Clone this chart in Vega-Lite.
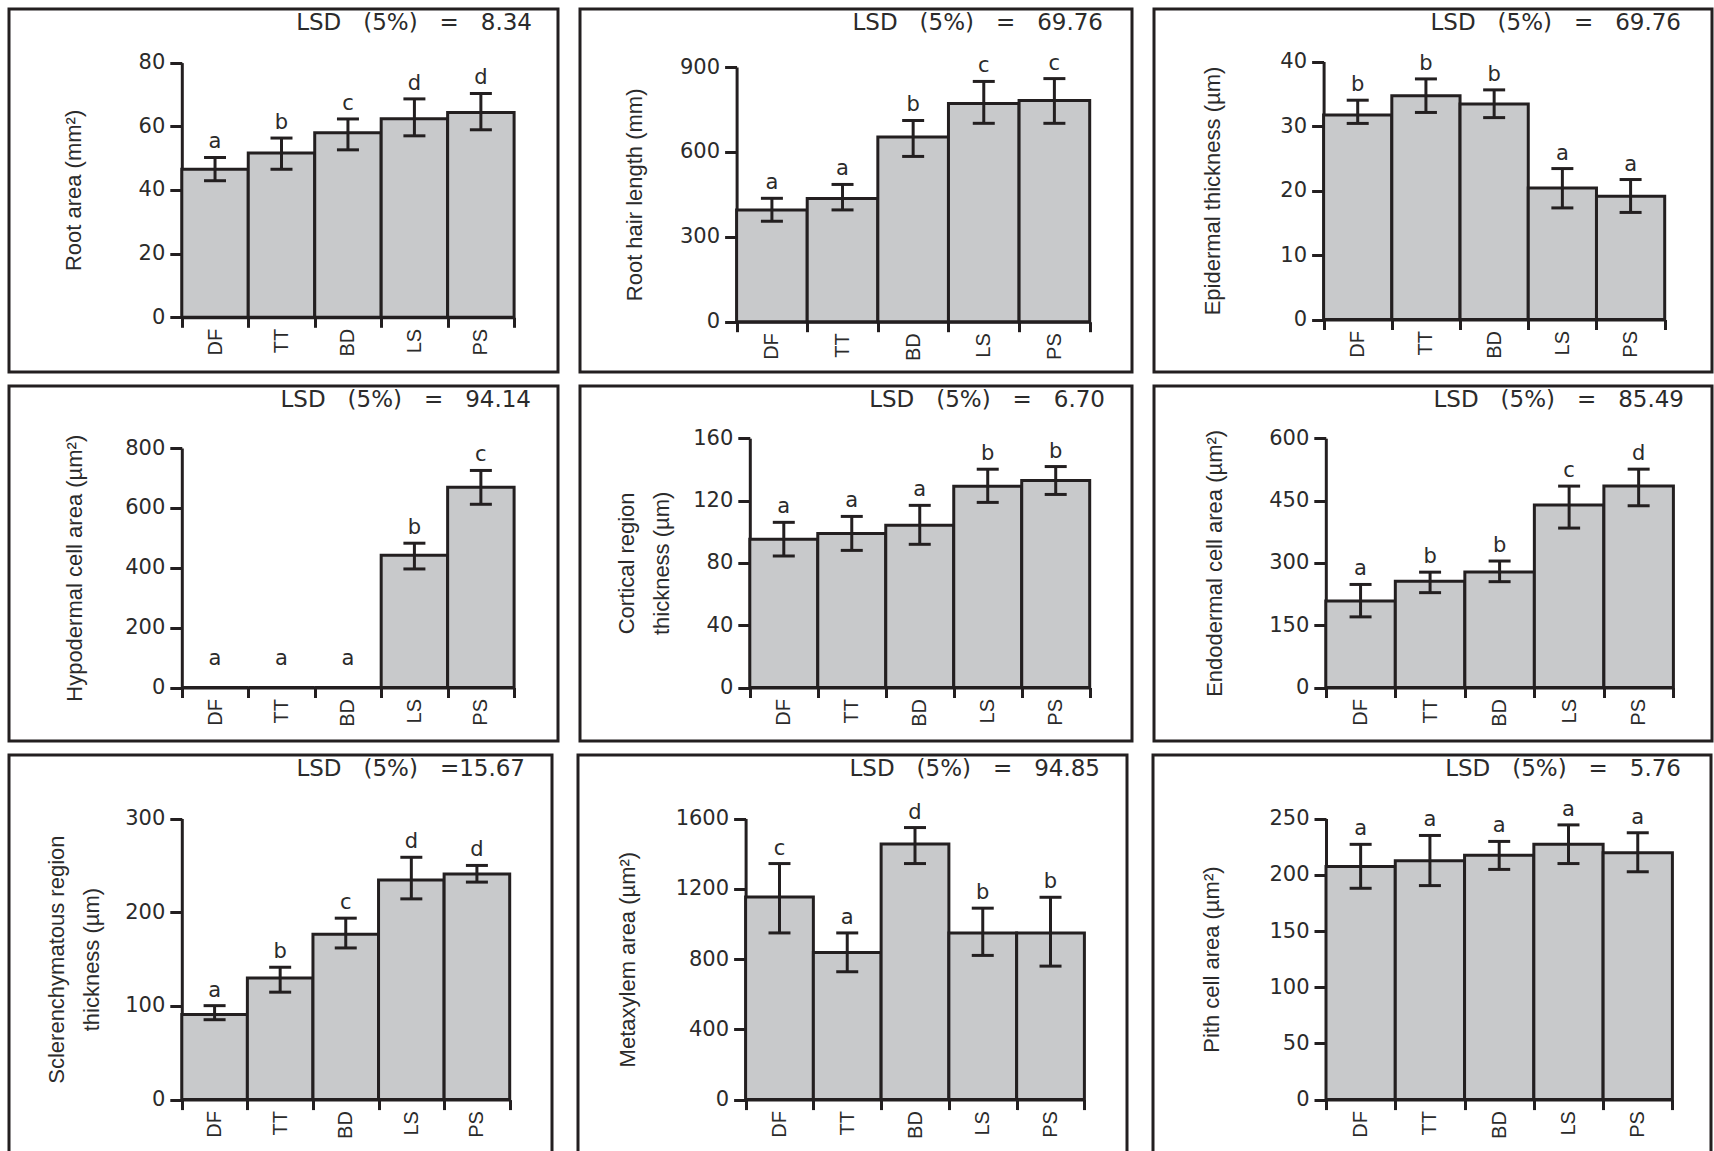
{
  "$schema": "https://vega.github.io/schema/vega-lite/v6.json",
  "background": "white",
  "padding": {"left": -3, "top": 7, "right": 0, "bottom": 0},
  "data": {"values": [
    {"panel": "p1", "trt": "DF", "mean": 46.5, "lo": 42.9, "hi": 50.2, "letter": "a"},
    {"panel": "p1", "trt": "TT", "mean": 51.6, "lo": 46.5, "hi": 56.3, "letter": "b"},
    {"panel": "p1", "trt": "BD", "mean": 58.0, "lo": 52.6, "hi": 62.3, "letter": "c"},
    {"panel": "p1", "trt": "LS", "mean": 62.4, "lo": 57.0, "hi": 68.6, "letter": "d"},
    {"panel": "p1", "trt": "PS", "mean": 64.3, "lo": 58.9, "hi": 70.3, "letter": "d"},
    {"panel": "p2", "trt": "DF", "mean": 395, "lo": 355, "hi": 436, "letter": "a"},
    {"panel": "p2", "trt": "TT", "mean": 435, "lo": 395, "hi": 485, "letter": "a"},
    {"panel": "p2", "trt": "BD", "mean": 653, "lo": 584, "hi": 711, "letter": "b"},
    {"panel": "p2", "trt": "LS", "mean": 771, "lo": 701, "hi": 849, "letter": "c"},
    {"panel": "p2", "trt": "PS", "mean": 782, "lo": 701, "hi": 859, "letter": "c"},
    {"panel": "p3", "trt": "DF", "mean": 31.7, "lo": 30.4, "hi": 34.0, "letter": "b"},
    {"panel": "p3", "trt": "TT", "mean": 34.7, "lo": 32.1, "hi": 37.3, "letter": "b"},
    {"panel": "p3", "trt": "BD", "mean": 33.4, "lo": 31.3, "hi": 35.6, "letter": "b"},
    {"panel": "p3", "trt": "LS", "mean": 20.4, "lo": 17.3, "hi": 23.4, "letter": "a"},
    {"panel": "p3", "trt": "PS", "mean": 19.1, "lo": 16.6, "hi": 21.7, "letter": "a"},
    {"panel": "p4", "trt": "DF", "mean": 0, "lo": 0, "hi": 0, "letter": "a"},
    {"panel": "p4", "trt": "TT", "mean": 0, "lo": 0, "hi": 0, "letter": "a"},
    {"panel": "p4", "trt": "BD", "mean": 0, "lo": 0, "hi": 0, "letter": "a"},
    {"panel": "p4", "trt": "LS", "mean": 442, "lo": 396, "hi": 482, "letter": "b"},
    {"panel": "p4", "trt": "PS", "mean": 669, "lo": 612, "hi": 725, "letter": "c"},
    {"panel": "p5", "trt": "DF", "mean": 95.1, "lo": 84.4, "hi": 106.0, "letter": "a"},
    {"panel": "p5", "trt": "TT", "mean": 98.9, "lo": 88.0, "hi": 109.8, "letter": "a"},
    {"panel": "p5", "trt": "BD", "mean": 104.2, "lo": 91.9, "hi": 116.9, "letter": "a"},
    {"panel": "p5", "trt": "LS", "mean": 129.2, "lo": 118.8, "hi": 140.1, "letter": "b"},
    {"panel": "p5", "trt": "PS", "mean": 132.9, "lo": 123.9, "hi": 141.8, "letter": "b"},
    {"panel": "p6", "trt": "DF", "mean": 208, "lo": 170, "hi": 248, "letter": "a"},
    {"panel": "p6", "trt": "TT", "mean": 255.5, "lo": 228.3, "hi": 277.6, "letter": "b"},
    {"panel": "p6", "trt": "BD", "mean": 278, "lo": 254.7, "hi": 304.4, "letter": "b"},
    {"panel": "p6", "trt": "LS", "mean": 439, "lo": 383.7, "hi": 484.7, "letter": "c"},
    {"panel": "p6", "trt": "PS", "mean": 484.7, "lo": 437.4, "hi": 525.5, "letter": "d"},
    {"panel": "p7", "trt": "DF", "mean": 90.9, "lo": 85.3, "hi": 100.3, "letter": "a"},
    {"panel": "p7", "trt": "TT", "mean": 129.7, "lo": 114.7, "hi": 141.3, "letter": "b"},
    {"panel": "p7", "trt": "BD", "mean": 176.6, "lo": 161.9, "hi": 193.7, "letter": "c"},
    {"panel": "p7", "trt": "LS", "mean": 234.5, "lo": 214.3, "hi": 258.7, "letter": "d"},
    {"panel": "p7", "trt": "PS", "mean": 240.9, "lo": 232.2, "hi": 250.0, "letter": "d"},
    {"panel": "p8", "trt": "DF", "mean": 1154, "lo": 949, "hi": 1344, "letter": "c"},
    {"panel": "p8", "trt": "TT", "mean": 838, "lo": 728, "hi": 949, "letter": "a"},
    {"panel": "p8", "trt": "BD", "mean": 1455, "lo": 1344, "hi": 1549, "letter": "d"},
    {"panel": "p8", "trt": "LS", "mean": 949, "lo": 821, "hi": 1090, "letter": "b"},
    {"panel": "p8", "trt": "PS", "mean": 949, "lo": 760, "hi": 1152, "letter": "b"},
    {"panel": "p9", "trt": "DF", "mean": 207.4, "lo": 188.0, "hi": 227.1, "letter": "a"},
    {"panel": "p9", "trt": "TT", "mean": 212.6, "lo": 190.4, "hi": 235.0, "letter": "a"},
    {"panel": "p9", "trt": "BD", "mean": 217.4, "lo": 204.8, "hi": 229.7, "letter": "a"},
    {"panel": "p9", "trt": "LS", "mean": 227.1, "lo": 210.0, "hi": 244.4, "letter": "a"},
    {"panel": "p9", "trt": "PS", "mean": 219.6, "lo": 202.7, "hi": 237.4, "letter": "a"}
  ]},
  "config": {
    "view": {"stroke": "#231f20", "strokeWidth": 3},
    "font": "Liberation Sans",
    "axis": {
      "domainColor": "#231f20", "domainWidth": 3,
      "tickColor": "#231f20", "tickWidth": 3, "tickSize": 12,
      "labelFont": "DejaVu Sans", "labelFontSize": 21, "labelColor": "#2b2b2b",
      "titleFont": "Liberation Sans", "titleFontSize": 22, "titleFontWeight": "normal", "titleColor": "#2b2b2b",
      "grid": false
    },
    "axisX": {"labelAngle": 270, "tickBand": "extent", "labelPadding": 1, "tickSize": 10, "labelFont": "Liberation Sans", "labelFontSize": 20},
    "axisY": {"labelPadding": 5, "titleBaseline": "middle", "titleLineHeight": 35},
    "title": {"anchor": "end", "frame": "group", "offset": -26, "dx": -27, "font": "DejaVu Sans", "fontSize": 23, "fontWeight": "normal", "color": "#2b2b2b"}
  },
  "spacing": 10,
  "vconcat": [
    {"spacing": 22, "bounds": "flush", "hconcat": [
      {"width": 549, "height": 363,
       "title": {"text": "LSD\u00a0\u00a0\u00a0(5%)\u00a0\u00a0\u00a0=\u00a0\u00a0\u00a08.34", "dx": -26},
       "transform": [{"filter": "datum.panel === 'p1'"}],
       "encoding": {"x": {"field": "trt", "type": "nominal", "sort": ["DF","TT","BD","LS","PS"], "scale": {"range": [172.8, 505.1], "paddingInner": 0, "paddingOuter": 0}, "axis": {"title": null, "offset": -54.7}}},
       "layer": [
         {"mark": {"type": "bar", "fill": "#c8c9cb", "stroke": "#231f20", "strokeWidth": 3},
          "encoding": {"y": {"field": "mean", "type": "quantitative", "scale": {"domain": [0, 80], "range": [308.3, 53.6], "nice": false}, "axis": {"title": "Root area (mm²)", "values": [0,20,40,60,80], "format": "d", "offset": -172.8, "titleX": -108}}}},
         {"transform": [{"filter": "datum.hi > 0"}], "mark": {"type": "rule", "stroke": "#231f20", "strokeWidth": 3}, "encoding": {"y": {"field": "lo", "type": "quantitative"}, "y2": {"field": "hi"}}},
         {"transform": [{"filter": "datum.hi > 0"}], "mark": {"type": "tick", "color": "#231f20", "opacity": 1, "thickness": 3, "size": 22}, "encoding": {"y": {"field": "hi", "type": "quantitative"}}},
         {"transform": [{"filter": "datum.hi > 0"}], "mark": {"type": "tick", "color": "#231f20", "opacity": 1, "thickness": 3, "size": 22}, "encoding": {"y": {"field": "lo", "type": "quantitative"}}},
         {"transform": [{"filter": "datum.hi > 0"}], "mark": {"type": "text", "baseline": "alphabetic", "dy": -9, "font": "DejaVu Sans", "fontSize": 21, "color": "#2b2b2b"}, "encoding": {"y": {"field": "hi", "type": "quantitative"}, "text": {"field": "letter"}}}
       ]},
      {"width": 552, "height": 363,
       "title": {"text": "LSD\u00a0\u00a0\u00a0(5%)\u00a0\u00a0\u00a0=\u00a0\u00a0\u00a069.76", "dx": -29},
       "transform": [{"filter": "datum.panel === 'p2'"}],
       "encoding": {"x": {"field": "trt", "type": "nominal", "sort": ["DF","TT","BD","LS","PS"], "scale": {"range": [156.6, 509.7], "paddingInner": 0, "paddingOuter": 0}, "axis": {"title": null, "offset": -50.3}}},
       "layer": [
         {"mark": {"type": "bar", "fill": "#c8c9cb", "stroke": "#231f20", "strokeWidth": 3},
          "encoding": {"y": {"field": "mean", "type": "quantitative", "scale": {"domain": [0, 900], "range": [312.7, 58], "nice": false}, "axis": {"title": "Root hair length (mm)", "values": [0,300,600,900], "format": "d", "offset": -156.6, "titleX": -102}}}},
         {"transform": [{"filter": "datum.hi > 0"}], "mark": {"type": "rule", "stroke": "#231f20", "strokeWidth": 3}, "encoding": {"y": {"field": "lo", "type": "quantitative"}, "y2": {"field": "hi"}}},
         {"transform": [{"filter": "datum.hi > 0"}], "mark": {"type": "tick", "color": "#231f20", "opacity": 1, "thickness": 3, "size": 22}, "encoding": {"y": {"field": "hi", "type": "quantitative"}}},
         {"transform": [{"filter": "datum.hi > 0"}], "mark": {"type": "tick", "color": "#231f20", "opacity": 1, "thickness": 3, "size": 22}, "encoding": {"y": {"field": "lo", "type": "quantitative"}}},
         {"transform": [{"filter": "datum.hi > 0"}], "mark": {"type": "text", "baseline": "alphabetic", "dy": -9, "font": "DejaVu Sans", "fontSize": 21, "color": "#2b2b2b"}, "encoding": {"y": {"field": "hi", "type": "quantitative"}, "text": {"field": "letter"}}}
       ]},
      {"width": 558, "height": 363,
       "title": {"text": "LSD\u00a0\u00a0\u00a0(5%)\u00a0\u00a0\u00a0=\u00a0\u00a0\u00a069.76", "dx": -31},
       "transform": [{"filter": "datum.panel === 'p3'"}],
       "encoding": {"x": {"field": "trt", "type": "nominal", "sort": ["DF","TT","BD","LS","PS"], "scale": {"range": [169.6, 510.7], "paddingInner": 0, "paddingOuter": 0}, "axis": {"title": null, "offset": -52.5}}},
       "layer": [
         {"mark": {"type": "bar", "fill": "#c8c9cb", "stroke": "#231f20", "strokeWidth": 3},
          "encoding": {"y": {"field": "mean", "type": "quantitative", "scale": {"domain": [0, 40], "range": [310.5, 52.5], "nice": false}, "axis": {"title": "Epidermal thickness (µm)", "values": [0,10,20,30,40], "format": "d", "offset": -169.6, "titleX": -111}}}},
         {"transform": [{"filter": "datum.hi > 0"}], "mark": {"type": "rule", "stroke": "#231f20", "strokeWidth": 3}, "encoding": {"y": {"field": "lo", "type": "quantitative"}, "y2": {"field": "hi"}}},
         {"transform": [{"filter": "datum.hi > 0"}], "mark": {"type": "tick", "color": "#231f20", "opacity": 1, "thickness": 3, "size": 22}, "encoding": {"y": {"field": "hi", "type": "quantitative"}}},
         {"transform": [{"filter": "datum.hi > 0"}], "mark": {"type": "tick", "color": "#231f20", "opacity": 1, "thickness": 3, "size": 22}, "encoding": {"y": {"field": "lo", "type": "quantitative"}}},
         {"transform": [{"filter": "datum.hi > 0"}], "mark": {"type": "text", "baseline": "alphabetic", "dy": -9, "font": "DejaVu Sans", "fontSize": 21, "color": "#2b2b2b"}, "encoding": {"y": {"field": "hi", "type": "quantitative"}, "text": {"field": "letter"}}}
       ]}
    ]},
    {"spacing": 22, "bounds": "flush", "hconcat": [
      {"width": 549, "height": 355,
       "title": {"text": "LSD\u00a0\u00a0\u00a0(5%)\u00a0\u00a0\u00a0=\u00a0\u00a0\u00a094.14", "dx": -27},
       "transform": [{"filter": "datum.panel === 'p4'"}],
       "encoding": {"x": {"field": "trt", "type": "nominal", "sort": ["DF","TT","BD","LS","PS"], "scale": {"range": [172.8, 505.1], "paddingInner": 0, "paddingOuter": 0}, "axis": {"title": null, "offset": -53.5}}},
       "layer": [
         {"mark": {"type": "bar", "fill": "#c8c9cb", "stroke": "#231f20", "strokeWidth": 3},
          "encoding": {"y": {"field": "mean", "type": "quantitative", "scale": {"domain": [0, 800], "range": [301.5, 62], "nice": false}, "axis": {"title": "Hypodermal cell area (µm²)", "values": [0,200,400,600,800], "format": "d", "offset": -172.8, "titleX": -107}}}},
         {"transform": [{"filter": "datum.hi > 0"}], "mark": {"type": "rule", "stroke": "#231f20", "strokeWidth": 3}, "encoding": {"y": {"field": "lo", "type": "quantitative"}, "y2": {"field": "hi"}}},
         {"transform": [{"filter": "datum.hi > 0"}], "mark": {"type": "tick", "color": "#231f20", "opacity": 1, "thickness": 3, "size": 22}, "encoding": {"y": {"field": "hi", "type": "quantitative"}}},
         {"transform": [{"filter": "datum.hi > 0"}], "mark": {"type": "tick", "color": "#231f20", "opacity": 1, "thickness": 3, "size": 22}, "encoding": {"y": {"field": "lo", "type": "quantitative"}}},
         {"transform": [{"filter": "datum.hi > 0"}], "mark": {"type": "text", "baseline": "alphabetic", "dy": -9, "font": "DejaVu Sans", "fontSize": 21, "color": "#2b2b2b"}, "encoding": {"y": {"field": "hi", "type": "quantitative"}, "text": {"field": "letter"}}},
         {"transform": [{"filter": "datum.hi == 0"}], "mark": {"type": "text", "baseline": "alphabetic", "dy": -23, "font": "DejaVu Sans", "fontSize": 21, "color": "#2b2b2b"}, "encoding": {"y": {"field": "hi", "type": "quantitative"}, "text": {"field": "letter"}}}
       ]},
      {"width": 552, "height": 355,
       "title": {"text": "LSD\u00a0\u00a0\u00a0(5%)\u00a0\u00a0\u00a0=\u00a0\u00a0\u00a06.70", "dx": -27},
       "transform": [{"filter": "datum.panel === 'p5'"}],
       "encoding": {"x": {"field": "trt", "type": "nominal", "sort": ["DF","TT","BD","LS","PS"], "scale": {"range": [169.8, 509.7], "paddingInner": 0, "paddingOuter": 0}, "axis": {"title": null, "offset": -53.5}}},
       "layer": [
         {"mark": {"type": "bar", "fill": "#c8c9cb", "stroke": "#231f20", "strokeWidth": 3},
          "encoding": {"y": {"field": "mean", "type": "quantitative", "scale": {"domain": [0, 160], "range": [301.5, 52.2], "nice": false}, "axis": {"title": ["Cortical region", "thickness (µm)"], "values": [0,40,80,120,160], "format": "d", "offset": -169.8, "titleX": -123}}}},
         {"transform": [{"filter": "datum.hi > 0"}], "mark": {"type": "rule", "stroke": "#231f20", "strokeWidth": 3}, "encoding": {"y": {"field": "lo", "type": "quantitative"}, "y2": {"field": "hi"}}},
         {"transform": [{"filter": "datum.hi > 0"}], "mark": {"type": "tick", "color": "#231f20", "opacity": 1, "thickness": 3, "size": 22}, "encoding": {"y": {"field": "hi", "type": "quantitative"}}},
         {"transform": [{"filter": "datum.hi > 0"}], "mark": {"type": "tick", "color": "#231f20", "opacity": 1, "thickness": 3, "size": 22}, "encoding": {"y": {"field": "lo", "type": "quantitative"}}},
         {"transform": [{"filter": "datum.hi > 0"}], "mark": {"type": "text", "baseline": "alphabetic", "dy": -9, "font": "DejaVu Sans", "fontSize": 21, "color": "#2b2b2b"}, "encoding": {"y": {"field": "hi", "type": "quantitative"}, "text": {"field": "letter"}}}
       ]},
      {"width": 558, "height": 355,
       "title": {"text": "LSD\u00a0\u00a0\u00a0(5%)\u00a0\u00a0\u00a0=\u00a0\u00a0\u00a085.49", "dx": -28},
       "transform": [{"filter": "datum.panel === 'p6'"}],
       "encoding": {"x": {"field": "trt", "type": "nominal", "sort": ["DF","TT","BD","LS","PS"], "scale": {"range": [171.8, 519.4], "paddingInner": 0, "paddingOuter": 0}, "axis": {"title": null, "offset": -53.5}}},
       "layer": [
         {"mark": {"type": "bar", "fill": "#c8c9cb", "stroke": "#231f20", "strokeWidth": 3},
          "encoding": {"y": {"field": "mean", "type": "quantitative", "scale": {"domain": [0, 600], "range": [301.5, 52.2], "nice": false}, "axis": {"title": "Endodermal cell area (µm²)", "values": [0,150,300,450,600], "format": "d", "offset": -171.8, "titleX": -111}}}},
         {"transform": [{"filter": "datum.hi > 0"}], "mark": {"type": "rule", "stroke": "#231f20", "strokeWidth": 3}, "encoding": {"y": {"field": "lo", "type": "quantitative"}, "y2": {"field": "hi"}}},
         {"transform": [{"filter": "datum.hi > 0"}], "mark": {"type": "tick", "color": "#231f20", "opacity": 1, "thickness": 3, "size": 22}, "encoding": {"y": {"field": "hi", "type": "quantitative"}}},
         {"transform": [{"filter": "datum.hi > 0"}], "mark": {"type": "tick", "color": "#231f20", "opacity": 1, "thickness": 3, "size": 22}, "encoding": {"y": {"field": "lo", "type": "quantitative"}}},
         {"transform": [{"filter": "datum.hi > 0"}], "mark": {"type": "text", "baseline": "alphabetic", "dy": -9, "font": "DejaVu Sans", "fontSize": 21, "color": "#2b2b2b"}, "encoding": {"y": {"field": "hi", "type": "quantitative"}, "text": {"field": "letter"}}}
       ]}
    ]},
    {"spacing": 26, "bounds": "flush", "hconcat": [
      {"width": 543, "height": 400,
       "title": {"text": "LSD\u00a0\u00a0\u00a0(5%)\u00a0\u00a0\u00a0=15.67", "dx": -27},
       "transform": [{"filter": "datum.panel === 'p7'"}],
       "encoding": {"x": {"field": "trt", "type": "nominal", "sort": ["DF","TT","BD","LS","PS"], "scale": {"range": [172.8, 500.7], "paddingInner": 0, "paddingOuter": 0}, "axis": {"title": null, "offset": -55.4}}},
       "layer": [
         {"mark": {"type": "bar", "fill": "#c8c9cb", "stroke": "#231f20", "strokeWidth": 3},
          "encoding": {"y": {"field": "mean", "type": "quantitative", "scale": {"domain": [0, 300], "range": [344.6, 63.6], "nice": false}, "axis": {"title": ["Sclerenchymatous region", "thickness (µm)"], "values": [0,100,200,300], "format": "d", "offset": -172.8, "titleX": -125}}}},
         {"transform": [{"filter": "datum.hi > 0"}], "mark": {"type": "rule", "stroke": "#231f20", "strokeWidth": 3}, "encoding": {"y": {"field": "lo", "type": "quantitative"}, "y2": {"field": "hi"}}},
         {"transform": [{"filter": "datum.hi > 0"}], "mark": {"type": "tick", "color": "#231f20", "opacity": 1, "thickness": 3, "size": 22}, "encoding": {"y": {"field": "hi", "type": "quantitative"}}},
         {"transform": [{"filter": "datum.hi > 0"}], "mark": {"type": "tick", "color": "#231f20", "opacity": 1, "thickness": 3, "size": 22}, "encoding": {"y": {"field": "lo", "type": "quantitative"}}},
         {"transform": [{"filter": "datum.hi > 0"}], "mark": {"type": "text", "baseline": "alphabetic", "dy": -9, "font": "DejaVu Sans", "fontSize": 21, "color": "#2b2b2b"}, "encoding": {"y": {"field": "hi", "type": "quantitative"}, "text": {"field": "letter"}}}
       ]},
      {"width": 549, "height": 400,
       "title": {"text": "LSD\u00a0\u00a0\u00a0(5%)\u00a0\u00a0\u00a0=\u00a0\u00a0\u00a094.85", "dx": -27},
       "transform": [{"filter": "datum.panel === 'p8'"}],
       "encoding": {"x": {"field": "trt", "type": "nominal", "sort": ["DF","TT","BD","LS","PS"], "scale": {"range": [167.6, 506.4], "paddingInner": 0, "paddingOuter": 0}, "axis": {"title": null, "offset": -55.4}}},
       "layer": [
         {"mark": {"type": "bar", "fill": "#c8c9cb", "stroke": "#231f20", "strokeWidth": 3},
          "encoding": {"y": {"field": "mean", "type": "quantitative", "scale": {"domain": [0, 1600], "range": [344.6, 63.6], "nice": false}, "axis": {"title": "Metaxylem area (µm²)", "values": [0,400,800,1200,1600], "format": "d", "offset": -167.6, "titleX": -118}}}},
         {"transform": [{"filter": "datum.hi > 0"}], "mark": {"type": "rule", "stroke": "#231f20", "strokeWidth": 3}, "encoding": {"y": {"field": "lo", "type": "quantitative"}, "y2": {"field": "hi"}}},
         {"transform": [{"filter": "datum.hi > 0"}], "mark": {"type": "tick", "color": "#231f20", "opacity": 1, "thickness": 3, "size": 22}, "encoding": {"y": {"field": "hi", "type": "quantitative"}}},
         {"transform": [{"filter": "datum.hi > 0"}], "mark": {"type": "tick", "color": "#231f20", "opacity": 1, "thickness": 3, "size": 22}, "encoding": {"y": {"field": "lo", "type": "quantitative"}}},
         {"transform": [{"filter": "datum.hi > 0"}], "mark": {"type": "text", "baseline": "alphabetic", "dy": -9, "font": "DejaVu Sans", "fontSize": 21, "color": "#2b2b2b"}, "encoding": {"y": {"field": "hi", "type": "quantitative"}, "text": {"field": "letter"}}}
       ]},
      {"width": 558, "height": 400,
       "title": {"text": "LSD\u00a0\u00a0\u00a0(5%)\u00a0\u00a0\u00a0=\u00a0\u00a0\u00a05.76", "dx": -30},
       "transform": [{"filter": "datum.panel === 'p9'"}],
       "encoding": {"x": {"field": "trt", "type": "nominal", "sort": ["DF","TT","BD","LS","PS"], "scale": {"range": [173, 519.4], "paddingInner": 0, "paddingOuter": 0}, "axis": {"title": null, "offset": -55.4}}},
       "layer": [
         {"mark": {"type": "bar", "fill": "#c8c9cb", "stroke": "#231f20", "strokeWidth": 3},
          "encoding": {"y": {"field": "mean", "type": "quantitative", "scale": {"domain": [0, 250], "range": [344.6, 63.6], "nice": false}, "axis": {"title": "Pith cell area (µm²)", "values": [0,50,100,150,200,250], "format": "d", "offset": -173, "titleX": -115}}}},
         {"transform": [{"filter": "datum.hi > 0"}], "mark": {"type": "rule", "stroke": "#231f20", "strokeWidth": 3}, "encoding": {"y": {"field": "lo", "type": "quantitative"}, "y2": {"field": "hi"}}},
         {"transform": [{"filter": "datum.hi > 0"}], "mark": {"type": "tick", "color": "#231f20", "opacity": 1, "thickness": 3, "size": 22}, "encoding": {"y": {"field": "hi", "type": "quantitative"}}},
         {"transform": [{"filter": "datum.hi > 0"}], "mark": {"type": "tick", "color": "#231f20", "opacity": 1, "thickness": 3, "size": 22}, "encoding": {"y": {"field": "lo", "type": "quantitative"}}},
         {"transform": [{"filter": "datum.hi > 0"}], "mark": {"type": "text", "baseline": "alphabetic", "dy": -9, "font": "DejaVu Sans", "fontSize": 21, "color": "#2b2b2b"}, "encoding": {"y": {"field": "hi", "type": "quantitative"}, "text": {"field": "letter"}}}
       ]}
    ]}
  ]
}
